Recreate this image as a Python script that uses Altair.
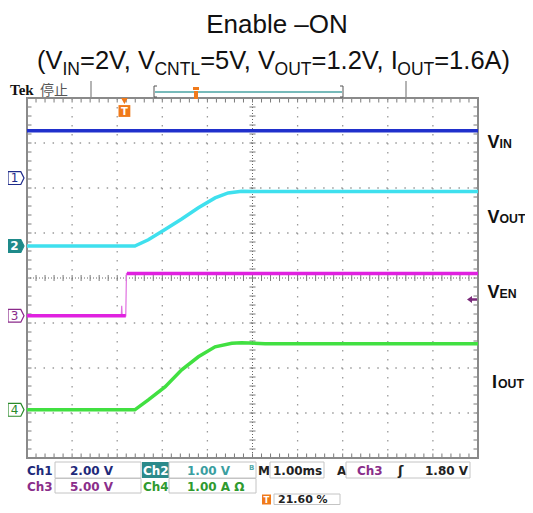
import altair as alt
import pandas as pd

# ---------------- data ----------------
T_LEFT = -2.16          # ms at left edge (trigger position 21.60 %)
T_RIGHT = 7.84          # ms at right edge (1.00 ms/div, 10 div)

ch_labels = ["1", "2", "3", "4"]
ch_offset = [2.22, 0.71, -0.84, -2.93]     # ground marker (div from centre)
ch_scale = [2.0, 1.0, 5.0, 1.0]            # units per division
ch_colors = ["#2030cc", "#3fe0ee", "#e021e0", "#41e041"]

vin_t = [-2.16, 7.84]
vin_v = [2.10, 2.10]

vout_t = [-2.16, 0.23, 0.53, 0.90, 1.27, 1.64, 2.01, 2.30, 2.60, 3.12, 7.84]
vout_v = [0.00, 0.00, 0.14, 0.37, 0.60, 0.85, 1.07, 1.18, 1.22, 1.21, 1.21]

ven_low_t = [-2.16, 0.03]
ven_low_v = [0.0, 0.0]
ven_high_t = [0.055, 7.84]
ven_high_v = [4.70, 4.70]
ven_edge_t = [-0.07, -0.06, -0.05, 0.03, 0.045, 0.055]
ven_edge_v = [0.0, 1.1, 0.0, 0.0, 4.7, 4.7]

iout_t = [-2.16, 0.23, 0.53, 0.90, 1.27, 1.64, 2.01, 2.38, 2.60, 3.12, 7.84]
iout_a = [0.00, 0.00, 0.22, 0.51, 0.89, 1.18, 1.40, 1.48, 1.49, 1.47, 1.47]

trig_level = 1.80       # Ch3 trigger level (V)

title1 = "Enable \u2013ON"
title2 = [("(V", "m"), ("IN", "s"), ("=2V, V", "m"), ("CNTL", "s"), ("=5V, V", "m"),
          ("OUT", "s"), ("=1.2V, I", "m"), ("OUT", "s"), ("=1.6A)", "m")]

# ---------------- helpers ----------------
OX, OY = 27, 98           # page position of screen top-left
W, H = 451, 360
dummy = pd.DataFrame({"d": [0]})

X = alt.X("t:Q", scale=alt.Scale(domain=[T_LEFT, T_RIGHT], nice=False, zero=False), axis=None)
Y = alt.Y("div:Q", scale=alt.Scale(domain=[-4, 4], nice=False, zero=False), axis=None)


def px(x):
    return x - OX


def py(y):
    return y - OY


def txt(s, x, y, size, color, weight="normal", font="DejaVu Sans", align="left", baseline="alphabetic"):
    return alt.Chart(dummy).mark_text(text=s, align=align, baseline=baseline, font=font,
                                      fontSize=size, fontWeight=weight, color=color).encode(
        x=alt.value(px(x)), y=alt.value(py(y)))


def box(x1, y1, x2, y2, stroke="#c4c4c4", fill="transparent", sw=1.0):
    return alt.Chart(dummy).mark_rect(fill=fill, stroke=stroke, strokeWidth=sw).encode(
        x=alt.value(px(x1)), x2=alt.value(px(x2)), y=alt.value(py(y1)), y2=alt.value(py(y2)))


def fbox(x1, y1, x2, y2, fill):
    return alt.Chart(dummy).mark_rect(fill=fill).encode(
        x=alt.value(px(x1)), x2=alt.value(px(x2)), y=alt.value(py(y1)), y2=alt.value(py(y2)))


def seg(x1, y1, x2, y2, color, w=1.0):
    return alt.Chart(dummy).mark_rule(color=color, strokeWidth=w).encode(
        x=alt.value(px(x1)), x2=alt.value(px(x2)), y=alt.value(py(y1)), y2=alt.value(py(y2)))


def trace(t, vals, ch):
    i = ch_labels.index(ch)
    return pd.DataFrame({"t": t, "div": [ch_offset[i] + v / ch_scale[i] for v in vals],
                         "i": list(range(len(t)))})


layers = []

# ---------------- graticule ----------------
t_c = T_LEFT + 5
grid_v = pd.DataFrame({"t": [T_LEFT + k for k in range(1, 10) if k != 5]})
grid_h = pd.DataFrame({"div": [k for k in range(-3, 4) if k != 0]})
layers.append(alt.Chart(grid_v).mark_rule(color="#9a9a9a", strokeWidth=1.3, strokeDash=[1.5, 7.5]).encode(x=X))
layers.append(alt.Chart(grid_h).mark_rule(color="#9a9a9a", strokeWidth=1.3, strokeDash=[1.5, 7.52]).encode(y=Y))
layers.append(alt.Chart(pd.DataFrame({"t": [t_c]})).mark_rule(color="#666", strokeWidth=1, strokeDash=[1, 2]).encode(x=X))
layers.append(alt.Chart(pd.DataFrame({"div": [0]})).mark_rule(color="#666", strokeWidth=1, strokeDash=[1, 2]).encode(y=Y))

minor_t = [T_LEFT + i * 0.2 for i in range(1, 50)]
minor_d = [-4 + j * 0.2 for j in range(1, 40)]
rows = []
for t in minor_t:
    rows.append((t, t, 4, 3.9))
    rows.append((t, t, -4, -3.9))
    rows.append((t, t, -0.067, 0.067))
for d in minor_d:
    rows.append((T_LEFT, T_LEFT + 0.1, d, d))
    rows.append((T_RIGHT, T_RIGHT - 0.1, d, d))
    rows.append((t_c - 0.067, t_c + 0.067, d, d))
ticks = pd.DataFrame(rows, columns=["t", "t2", "div", "div2"])
layers.append(alt.Chart(ticks).mark_rule(color="#7a7a7a", strokeWidth=1).encode(
    x=X, x2="t2:Q", y=Y, y2="div2:Q"))

layers.append(box(OX, OY, OX + W, OY + H, stroke="#8a8a8a", sw=2))

# ---------------- traces ----------------
layers.append(alt.Chart(trace(vin_t, vin_v, "1")).mark_line(color=ch_colors[0], strokeWidth=3.5).encode(x=X, y=Y, order="i:Q"))
layers.append(alt.Chart(trace(vout_t, vout_v, "2")).mark_line(color=ch_colors[1], strokeWidth=3.5).encode(x=X, y=Y, order="i:Q"))
layers.append(alt.Chart(trace(ven_edge_t, ven_edge_v, "3")).mark_line(color="#e070e0", strokeWidth=1.2).encode(x=X, y=Y, order="i:Q"))
layers.append(alt.Chart(trace(ven_low_t, ven_low_v, "3")).mark_line(color=ch_colors[2], strokeWidth=3.5).encode(x=X, y=Y, order="i:Q"))
layers.append(alt.Chart(trace(ven_high_t, ven_high_v, "3")).mark_line(color=ch_colors[2], strokeWidth=3.5).encode(x=X, y=Y, order="i:Q"))
layers.append(alt.Chart(trace(iout_t, iout_a, "4")).mark_line(color=ch_colors[3], strokeWidth=3.5).encode(x=X, y=Y, order="i:Q"))

# ---------------- channel ground markers ----------------
marker_shape = "M -1 -0.8 L 0.6 -0.8 L 1 0 L 0.6 0.8 L -1 0.8 Z"
mk_stroke = ["#1f2b8a", "#1f8a8a", "#8a2a8a", "#2a8a2a"]
mk_fill = ["white", "#1f8a8a", "white", "white"]
mk_text = ["#1f2b8a", "white", "#8a2a8a", "#2a8a2a"]
for i, lab in enumerate(ch_labels):
    d = pd.DataFrame({"div": [ch_offset[i]]})
    layers.append(alt.Chart(d).mark_point(shape=marker_shape, size=256, filled=True, fill=mk_fill[i],
                                          stroke=mk_stroke[i], strokeWidth=1.2, opacity=1).encode(
        x=alt.value(px(16)), y=Y))
    layers.append(alt.Chart(d).mark_text(text=lab, fontSize=12, font="DejaVu Sans", color=mk_text[i],
                                         fontWeight="bold" if i == 1 else "normal",
                                         align="center", baseline="middle").encode(
        x=alt.value(px(14.5)), y=Y))

# trigger level arrow (Ch3)
arrow = "M -1 0 L 0 -0.7 L 0 -0.25 L 1 -0.25 L 1 0.25 L 0 0.25 L 0 0.7 Z"
layers.append(alt.Chart(pd.DataFrame({"div": [ch_offset[2] + trig_level / ch_scale[2]]})).mark_point(
    shape=arrow, size=100, filled=True, color="#7a2a7a", opacity=1).encode(x=alt.value(px(472)), y=Y))

# trigger position marker
tdf = pd.DataFrame({"t": [0.0]})
layers.append(alt.Chart(tdf).mark_point(shape="triangle-down", size=45, filled=True, color="#f07a1a", opacity=1).encode(
    x=X, y=alt.value(py(101))))
layers.append(alt.Chart(tdf).mark_point(shape="square", size=140, filled=True, color="#f07a1a", opacity=1).encode(
    x=X, y=alt.value(py(111))))
layers.append(alt.Chart(tdf).mark_text(text="T", fontSize=10, fontWeight="bold", font="DejaVu Sans", color="white",
                                       align="center", baseline="middle").encode(x=X, y=alt.value(py(111.5))))

# ---------------- right-hand labels ----------------
LF = "Liberation Sans"
for main, sub, xm, xs, yb in [("V", "IN", 487.5, 499.5, 148), ("V", "OUT", 487.5, 499.5, 223),
                              ("V", "EN", 487.5, 499.5, 298), ("I", "OUT", 492, 498, 388)]:
    layers.append(txt(main, xm, yb, 18, "#111", weight="bold", font=LF))
    layers.append(txt(sub, xs, yb, 12.3, "#111", weight="bold", font=LF))

# ---------------- titles ----------------
layers.append(txt(title1, 277, 33, 26, "#111", font=LF, align="center"))
AW = {'(': 0.333, ')': 0.333, 'V': 0.667, 'I': 0.278, 'N': 0.722, '=': 0.584, '2': 0.556,
      ',': 0.278, ' ': 0.278, 'C': 0.722, 'T': 0.611, 'L': 0.556, '5': 0.556, 'O': 0.778,
      'U': 0.722, '1': 0.556, '.': 0.278, '6': 0.556, 'A': 0.667}
MS, SS = 25.5, 17.5
xcur = 37.0
for s, kind in title2:
    size = MS if kind == "m" else SS
    yb = 69 if kind == "m" else 74.5
    layers.append(txt(s, xcur, yb, size, "#111", font=LF))
    w = sum(AW[c] for c in s) * size
    if "V," in s:
        w -= 0.111 * size      # kerning of "V,"
    xcur += w

# ---------------- top status bar ----------------
layers.append(txt("Tek", 10, 94.5, 15, "#111", weight="bold", font="Liberation Serif"))
layers.append(txt("停止", 40, 94.5, 14, "#555", font="Noto Sans CJK SC"))
layers.append(seg(91, 81, 91, 97, "#b4b4b4", 2))
layers.append(seg(406, 81, 406, 97, "#b4b4b4", 2))
layers.append(seg(154, 86, 154, 97, "#555", 1))
layers.append(seg(154, 86, 157, 86, "#555", 1))
layers.append(seg(154, 97, 157, 97, "#555", 1))
layers.append(seg(343, 86, 343, 97, "#555", 1))
layers.append(seg(340, 86, 343, 86, "#555", 1))
layers.append(seg(340, 97, 343, 97, "#555", 1))
layers.append(seg(155, 92, 342, 92, "#4aa3a3", 1.5))
layers.append(fbox(193, 87, 199, 90, "#f07a1a"))
layers.append(fbox(194, 91, 198, 99, "#f07a1a"))

# ---------------- bottom status bar ----------------
NAVY, TEAL, PURP, GRN, BLK = "#1e2a7a", "#3a9ea0", "#8a2e8a", "#2f9a2f", "#222"
BF = 12
layers.append(txt("Ch1", 27, 475, BF, NAVY, weight="bold"))
layers.append(box(55, 462, 141, 478))
layers.append(txt("2.00 V", 70, 475, BF, NAVY, weight="bold"))
layers.append(fbox(142, 462, 169, 478, "#2b8a8a"))
layers.append(txt("Ch2", 143, 475, BF, "white", weight="bold"))
layers.append(box(169, 462, 256, 478))
layers.append(txt("1.00 V", 187, 475, BF, TEAL, weight="bold"))
layers.append(txt("B", 249, 470, 7, "#5aa", weight="bold"))
layers.append(txt("M", 258, 475, BF, BLK, weight="bold"))
layers.append(box(270, 462, 324, 478))
layers.append(txt("1.00ms", 273, 475, BF, BLK, weight="bold"))
layers.append(txt("A", 337, 475, BF, BLK, weight="bold"))
layers.append(box(346, 462, 470, 478))
layers.append(txt("Ch3", 357, 475, BF, PURP, weight="bold"))
layers.append(txt("ʃ", 398, 475, 13, BLK, weight="bold"))
layers.append(txt("1.80 V", 425, 475, BF, BLK, weight="bold"))

layers.append(txt("Ch3", 27, 490.5, BF, PURP, weight="bold"))
layers.append(box(55, 478.5, 141, 493))
layers.append(txt("5.00 V", 70, 490.5, BF, PURP, weight="bold"))
layers.append(txt("Ch4", 143, 490.5, BF, GRN, weight="bold"))
layers.append(box(169, 478.5, 256, 493))
layers.append(txt("1.00 A \u03a9", 187, 490.5, BF, GRN, weight="bold"))

layers.append(fbox(262, 494.5, 271, 504.5, "#f07a1a"))
layers.append(txt("T", 266.5, 503, 8.5, "white", weight="bold", align="center"))
layers.append(box(274, 494, 340, 504.5))
layers.append(txt("21.60 %", 278, 503, 11, BLK, weight="bold"))

chart = alt.layer(*layers).properties(
    width=W, height=H,
    padding={"left": OX - 8, "top": OY - 8, "right": 517 - (OX - 8) - W, "bottom": 497 - (OY - 8) - H},
    autosize=alt.AutoSizeParams(type="none"),
    background="white",
).configure_view(strokeWidth=0)

chart.save("out.html", embed_options={"renderer": "svg", "actions": False})
